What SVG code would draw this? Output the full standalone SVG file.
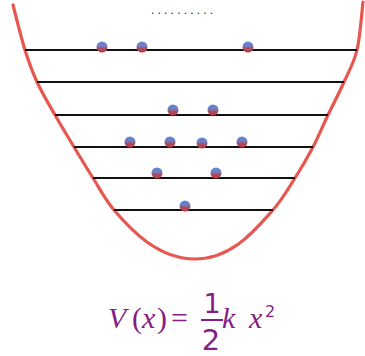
<svg xmlns="http://www.w3.org/2000/svg" width="365" height="356" viewBox="0 0 365 356">
  <defs>
    <linearGradient id="ball" x1="0" y1="0" x2="0" y2="1">
      <stop offset="0" stop-color="#5f86d6"/>
      <stop offset="0.4" stop-color="#6f7fc4"/>
      <stop offset="0.62" stop-color="#a2506a"/>
      <stop offset="1" stop-color="#c8362e"/>
    </linearGradient>
  </defs>
  <style>
    .lvl { stroke: #111; stroke-width: 1.8; fill: none; }
    .dot { fill: url(#ball); }
    .well { stroke: #e85650; stroke-width: 3.2; fill: none; stroke-linecap: round; }
    .m { font-family: "Liberation Serif", serif; font-size: 30px; fill: #861c86; }
    .it { font-style: italic; }
    .d { font-family: "DejaVu Sans", sans-serif; fill: #861c86; }
  </style>
  <rect width="365" height="356" fill="#fff"/>
  <g id="well">
    <path class="well" d="M13,5 C15,12.5 21,37.2 25,50 C29,62.8 32,71.2 37,82 C42,92.8 48.8,104.2 55,115 C61.2,125.8 67.7,136.5 74,147 C80.3,157.5 86.3,167.5 93,178 C99.7,188.5 104.5,198.8 114,210 C131,230 158,259 195,259 C232,259 255,230 273,210 C282.8,198.8 288.3,188.5 295,178 C301.7,167.5 307.5,157.5 313,147 C318.5,136.5 322.8,125.8 328,115 C333.2,104.2 339.2,92.8 344,82 C348.8,71.2 353.8,63.3 357,50 C360.2,36.7 362,10 363,2"/>
  </g>
  <g id="levels">
    <line class="lvl" x1="25" y1="50" x2="357" y2="50"/>
    <line class="lvl" x1="37" y1="82" x2="344" y2="82"/>
    <line class="lvl" x1="55" y1="115" x2="328" y2="115"/>
    <line class="lvl" x1="74" y1="147" x2="313" y2="147"/>
    <line class="lvl" x1="93" y1="178" x2="295" y2="178"/>
    <line class="lvl" x1="114" y1="210" x2="273" y2="210"/>
  </g>
  <g id="particles">
    <circle class="dot" cx="102" cy="47" r="5.5"/>
    <circle class="dot" cx="142" cy="47" r="5.5"/>
    <circle class="dot" cx="248" cy="47" r="5.5"/>
    <circle class="dot" cx="173" cy="110" r="5.5"/>
    <circle class="dot" cx="213" cy="110" r="5.5"/>
    <circle class="dot" cx="130" cy="142" r="5.5"/>
    <circle class="dot" cx="170" cy="142" r="5.5"/>
    <circle class="dot" cx="202" cy="143" r="5.5"/>
    <circle class="dot" cx="242" cy="142" r="5.5"/>
    <circle class="dot" cx="157" cy="173" r="5.5"/>
    <circle class="dot" cx="216" cy="173" r="5.5"/>
    <circle class="dot" cx="185" cy="206" r="5.5"/>
  </g>
  <g id="ellipsis">
    <text x="151" y="14" font-family="Liberation Sans, sans-serif" font-size="12" fill="#222" letter-spacing="3.2">..........</text>
  </g>
  <g id="formula">
    <text class="m it" x="108" y="328">V</text>
    <text class="m" x="132" y="328">(</text>
    <text class="m it" x="142" y="328">x</text>
    <text class="m" x="157" y="328">)</text>
    <text class="m" x="171" y="328" font-size="32">=</text>
    <text class="d" x="212" y="313" font-size="27" text-anchor="middle">1</text>
    <line x1="201" y1="320" x2="223" y2="320" stroke="#861c86" stroke-width="2"/>
    <text class="d" x="211" y="350" font-size="29" text-anchor="middle">2</text>
    <text class="m it" x="222" y="328">k</text>
    <text class="m it" x="249" y="328">x</text>
    <text class="d" x="265" y="317" font-size="16">2</text>
  </g>
</svg>
